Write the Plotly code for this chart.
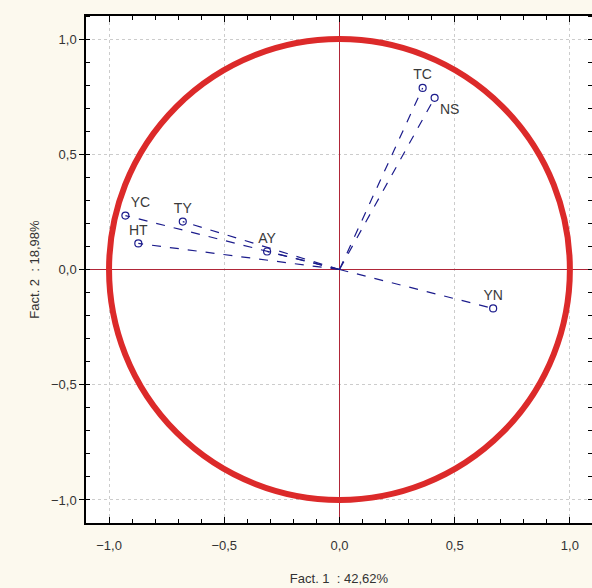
import plotly.graph_objects as go

labels = ["YC", "TY", "HT", "AY", "TC", "NS", "YN"]
fact1 = [-0.929, -0.680, -0.873, -0.314, 0.361, 0.413, 0.667]
fact2 = [0.234, 0.208, 0.113, 0.078, 0.788, 0.745, -0.169]
label_pos = ["top right", "top center", "top center", "top center", "top center", "bottom right", "top center"]
tick_vals = [-1.0, -0.5, 0.0, 0.5, 1.0]
x_title = "Fact. 1  : 42,62%"
y_title = "Fact. 2  : 18,98%"

navy = "#1c1c8c"
font_family = "Liberation Sans, Arial"
fig = go.Figure()

for lx, ly in zip(fact1, fact2):
    fig.add_trace(go.Scatter(x=[0, lx], y=[0, ly], mode="lines",
                             line=dict(color=navy, width=1.2, dash="dash"),
                             showlegend=False, hoverinfo="skip"))

fig.add_trace(go.Scatter(x=fact1, y=fact2, mode="markers+text", text=labels,
                         textposition=label_pos,
                         textfont=dict(family=font_family, size=14, color="#3a3a3a"),
                         marker=dict(symbol="circle-open", size=7, color=navy, line=dict(width=1.2)),
                         showlegend=False))

fig.add_shape(type="circle", xref="x", yref="y", x0=-1, y0=-1, x1=1, y1=1,
              line=dict(color="#dc2a2a", width=6), layer="between")

axis_common = dict(
    tickvals=tick_vals, tickformat=".1f",
    showgrid=True, gridcolor="#cccccc", griddash="dot", gridwidth=1,
    zeroline=True, zerolinecolor="#b02638", zerolinewidth=1.2,
    showline=True, linecolor="#000000", linewidth=1.5, mirror="ticks",
    tickfont=dict(family=font_family, size=13, color="#333333"),
    tickcolor="#000000",
    minor=dict(dtick=0.1, ticks="inside", ticklen=4, tickcolor="#000000", showgrid=False),
)

fig.update_xaxes(**axis_common, range=[-1.1, 1.096], ticks="inside", ticklen=6,
                 ticklabelstandoff=10,
                 title=dict(text=x_title, font=dict(family=font_family, size=13, color="#333333"), standoff=22))
fig.update_yaxes(**axis_common, range=[-1.1, 1.1], ticks="outside", ticklen=5,
                 title=dict(text=y_title, font=dict(family=font_family, size=13, color="#333333"), standoff=8))

fig.update_layout(
    width=592, height=588,
    margin=dict(l=86, r=0, t=16, b=65, autoexpand=False),
    paper_bgcolor="#fcf9ee", plot_bgcolor="#ffffff",
    separators=", ",
    showlegend=False,
)

fig.write_html("out.html", config={"displayModeBar": False},
               post_script="document.body.style.margin='0';document.body.style.background='#fcf9ee';")
